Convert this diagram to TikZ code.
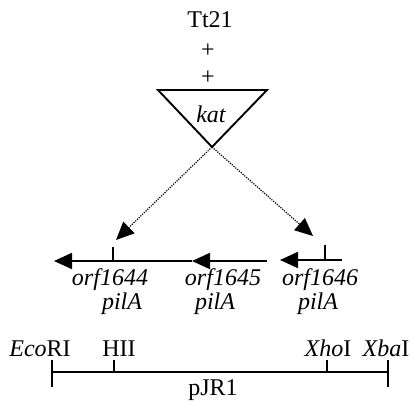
\documentclass[tikz,border=0pt]{standalone}
\usepackage{fontspec}
\setmainfont{Liberation Serif}
\usetikzlibrary{arrows.meta}
\begin{document}
\begin{tikzpicture}[x=1pt,y=-1pt,
  lbl/.style={inner sep=0pt,anchor=base,font=\fontsize{24}{27}\selectfont},
  orf/.style={lbl,text depth=0pt,font=\fontsize{24}{27}\selectfont\itshape},
  pil/.style={lbl,text height=13pt,font=\fontsize{24}{27}\selectfont\itshape},
  ln/.style={line width=1.9pt},
  thin/.style={line width=1.4pt},
  dots/.style={line width=1.2pt,dash pattern=on 1.2pt off 1.2pt,-{Triangle[length=18pt,width=16pt]}},
  gene/.style={line width=1.9pt,-{Triangle[length=18pt,width=16pt]}}]
\useasboundingbox (0,0) rectangle (417,400);
% top texts
\node[lbl] (tt) at (210,27) {Tt21};
\node[lbl] (p1) at (208,57) {+};
\node[lbl] (p2) at (208,84) {+};
% triangle
\coordinate (ta) at (158,90);
\coordinate (tb) at (267,90);
\coordinate (apex) at (212,147);
\draw[ln,line join=miter] (ta) -- (tb) -- (apex) -- cycle;
\node[lbl,font=\fontsize{24}{27}\selectfont\itshape] (kat) at (211,122) {kat};
% dotted arrows
\coordinate (d1) at (116,240);
\coordinate (d2) at (313,236);
\draw[dots] (apex) -- (d1);
\draw[dots] (apex) -- (d2);
% gene line
\coordinate (g0) at (54,261);
\coordinate (g1) at (192,261);
\coordinate (g2) at (267,261);
\coordinate (g3) at (280,260);
\coordinate (g4) at (342,260);
\draw[gene] (g2) -- (g1);
\draw[gene] (g1) -- (g0);
\draw[gene] (g4) -- (g3);
\coordinate (k1) at (113,261);
\coordinate (k1t) at (113,247);
\coordinate (k2) at (325,260);
\coordinate (k2t) at (325,245);
\draw[thin] (k1) -- (k1t);
\draw[thin] (k2) -- (k2t);
% gene labels
\node[orf] (o1) at (110,285) {orf1644};
\node[orf] (o2) at (223,285) {orf1645};
\node[orf] (o3) at (320,285) {orf1646};
\node[pil] (a1) at (122,309) {pilA};
\node[pil] (a2) at (215,309) {pilA};
\node[pil] (a3) at (318,309) {pilA};
% restriction labels
\node[lbl] (eco) at (40,356) {\textit{Eco}RI};
\node[lbl] (hii) at (119,356) {HII};
\node[lbl] (xho) at (328,356) {\textit{Xho}I};
\node[lbl] (xba) at (386,356) {\textit{Xba}I};
% map
\coordinate (m0) at (52,372);
\coordinate (m1) at (388,372);
\draw[ln] (m0) -- (m1);
\coordinate (e0a) at (52,360);
\coordinate (e0b) at (52,387);
\coordinate (e1a) at (388,360);
\coordinate (e1b) at (388,387);
\draw[ln] (e0a) -- (e0b);
\draw[ln] (e1a) -- (e1b);
\coordinate (h1) at (114,360);
\coordinate (h1b) at (114,372);
\coordinate (x1) at (327,360);
\coordinate (x1b) at (327,372);
\draw[thin] (h1) -- (h1b);
\draw[thin] (x1) -- (x1b);
\node[lbl] (pjr) at (213,395) {pJR1};
\end{tikzpicture}
\end{document}
